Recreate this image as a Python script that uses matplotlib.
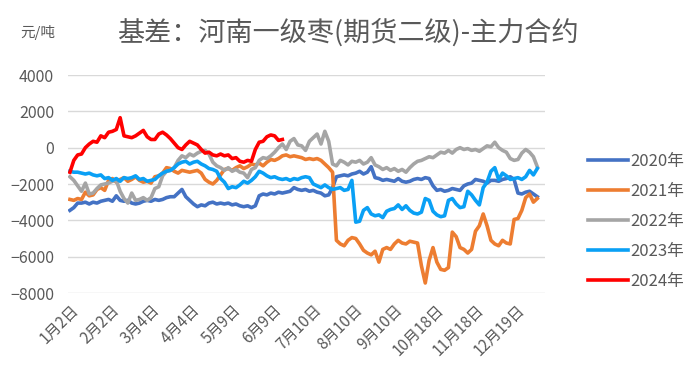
import numpy as np
import matplotlib
matplotlib.use('Agg')
import matplotlib.pyplot as plt

plt.rcParams['font.family'] = ['Noto Sans CJK SC', 'DejaVu Sans']

# 每两个交易日取一个点
y2020 = [-3450, -3300, -3050, -3050, -3000, -3100, -3000, -3050, -2950, -2900,
         -2850, -2950, -2650, -2900, -2950, -2900, -3050, -3100, -3050, -2950,
         -2900, -2950, -2850, -2900, -2850, -2750, -2700, -2700, -2500, -2300,
         -2700, -2900, -3100, -3250, -3150, -3200, -3050, -3000, -3100, -3050,
         -3100, -3050, -3150, -3100, -3200, -3250, -3200, -3300, -3200, -2650,
         -2550, -2600, -2500, -2550, -2450, -2500, -2450, -2400, -2200, -2300,
         -2350, -2300, -2400, -2350, -2450, -2500, -2650, -2600, -2200, -1600,
         -1550, -1500, -1550, -1450, -1400, -1300, -1450, -1350, -1050, -1650,
         -1700, -1800, -1750, -1800, -1850, -1700, -1850, -1900, -1850, -1750,
         -1700, -1750, -1650, -1700, -2100, -2350, -2300, -2400, -2350, -2250,
         -2300, -2350, -2100, -2000, -1950, -1750, -1800, -1850, -1950, -1800,
         -1800, -1850, -1750, -1700, -1600, -1750, -2500, -2550, -2450, -2400,
         -2550, -2700]
y2021 = [-2850, -2900, -2800, -2850, -2450, -2650, -2600, -2300, -2200, -2350,
         -1800, -1700, -1900, -1750, -1650, -1850, -1750, -1600, -1800, -1900,
         -1850, -1950, -1600, -1550, -1400, -1100, -1150, -1300, -1400, -1250,
         -1300, -1350, -1300, -1250, -1400, -1750, -1900, -2000, -1800, -1500,
         -1200, -1150, -1250, -1100, -1000, -1150, -1050, -900, -950, -850,
         -1000, -800, -650, -700, -600, -450, -400, -500, -450, -500,
         -550, -650, -600, -650, -600, -700, -900, -1100, -1350, -5100,
         -5300, -5400, -5100, -4950, -5000, -5300, -5650, -5800, -5900, -5700,
         -6300, -5600, -5500, -5600, -5300, -5100, -5250, -5300, -5150, -5200,
         -5250, -6500, -7450, -6200, -5500, -6300, -6700, -6750, -6600, -4650,
         -4900, -5500, -5600, -5800, -5600, -4600, -4300, -3650, -4300, -5100,
         -5300, -5400, -5100, -5250, -5300, -3950, -3900, -3450, -2750, -2550,
         -3000, -2800]
y2022 = [-1600, -1800, -2100, -2400, -1950, -2550, -2500, -2250, -2050, -2000,
         -1950, -1850, -1800, -2400, -2800, -3050, -2500, -2900, -2850, -2750,
         -2900, -2750, -2250, -2150, -1550, -1300, -1250, -1100, -700, -450,
         -550, -350, -450, -300, -200, -150, -350, -800, -1000, -1100,
         -1250, -1100, -1300, -1200, -1350, -1400, -1650, -1200, -1100, -700,
         -550, -600, -450, -250, 0, 200, -100, 350, 500, 150,
         100, -150, 350, 550, 750, 200, 900, 350, -900, -1000,
         -700, -800, -950, -750, -800, -700, -900, -800, -550, -950,
         -1050, -1200, -1100, -1250, -1150, -1300, -1200, -1350, -1100, -900,
         -750, -700, -600, -500, -550, -400, -250, -300, -150, -300,
         -100, 0, -100, -50, -150, -100, -200, -50, 100, 50,
         300, 0, -150, -250, -600, -700, -650, -300, -100, -250,
         -500, -1050]
y2023 = [-1300, -1350, -1350, -1400, -1450, -1400, -1500, -1550, -1500, -1700,
         -1650, -1800, -1700, -1850, -1650, -1700, -1650, -1550, -1750, -1700,
         -1850, -1800, -1750, -1550, -1400, -1300, -1250, -1100, -900, -800,
         -750, -900, -800, -750, -900, -1000, -1150, -1200, -1300, -1700,
         -1900, -2250, -2150, -2200, -2050, -1850, -1950, -1800, -1600, -1300,
         -1400, -1550, -1650, -1600, -1700, -1750, -1700, -1800, -1700, -1750,
         -1650, -1600, -1650, -2000, -2100, -2200, -2050, -2200, -2300, -2250,
         -2200, -2350, -2300, -1800, -4100, -4050, -3450, -3300, -3650, -3750,
         -3700, -3850, -3500, -3400, -3350, -3150, -3400, -3200, -3450, -3600,
         -3650, -3550, -2800, -2900, -3500, -3700, -3800, -3750, -2900, -2800,
         -3100, -3300, -3250, -2400, -2600, -2900, -3150, -2200, -1900, -1300,
         -1100, -1750, -1400, -1550, -1750, -1700, -1650, -1750, -1600, -1250,
         -1500, -1150]
y2024 = [-1350, -700, -400, -350, 0, 200, 350, 300, 650, 550,
         850, 900, 1000, 1650, 650, 600, 550, 650, 800, 950,
         600, 450, 450, 750, 850, 700, 500, 250, 0, -100,
         150, 350, 250, 150, -100, -300, -250, -400, -450, -350,
         -450, -400, -600, -550, -750, -800, -700, -750, -100, 300,
         350, 600, 700, 650, 400, 450]

years = ['2020年', '2021年', '2022年', '2023年', '2024年']
colors = ['#4472C4', '#ED7D31', '#A5A5A5', '#0AA0F5', '#FF0000']
tick_labels = ['1月2日', '2月2日', '3月4日', '4月4日', '5月9日', '6月9日',
               '7月10日', '8月10日', '9月10日', '10月18日', '11月18日', '12月19日']

fig = plt.figure(figsize=(7, 3.89), dpi=100)
ax = fig.add_axes([68 / 700, 1 - 293 / 389, 477 / 700, 218 / 389])

for vals, lab, c in zip([y2020, y2021, y2022, y2023, y2024], years, colors):
    x = np.arange(len(vals)) * 2
    ax.plot(x, vals, color=c, lw=2.6, label=lab, solid_joinstyle='round')

ax.set_xlim(-1, 246)
ax.set_ylim(-8000, 4000)
ax.set_yticks(np.arange(-8000, 4001, 2000))
ax.set_xticks(np.arange(len(tick_labels)) * 21)
ax.set_xticklabels(tick_labels, rotation=45, ha='right', rotation_mode='anchor')
ax.tick_params(length=0, labelsize=11.5, colors='#595959')
ax.tick_params(axis='x', pad=6, labelsize=11)
ax.tick_params(axis='y', pad=10)
ax.grid(axis='y', color='#D9D9D9', lw=1)
ax.set_axisbelow(True)
for s in ax.spines.values():
    s.set_visible(False)

fig.text(20 / 700, 1 - 33 / 389, '元/吨', fontsize=10.5, color='#595959', va='center')
fig.text(117 / 700, 1 - 33 / 389, '基差：河南一级枣(期货二级)-主力合约', fontsize=19.5,
         color='#595959', va='center')

fig.legend(loc='upper left', bbox_to_anchor=(573 / 700, 1 - 138 / 389), frameon=False,
           fontsize=12, labelcolor='#595959', handlelength=2.4, handletextpad=0.15,
           labelspacing=0.78)

fig.savefig('out.png', dpi=100)
